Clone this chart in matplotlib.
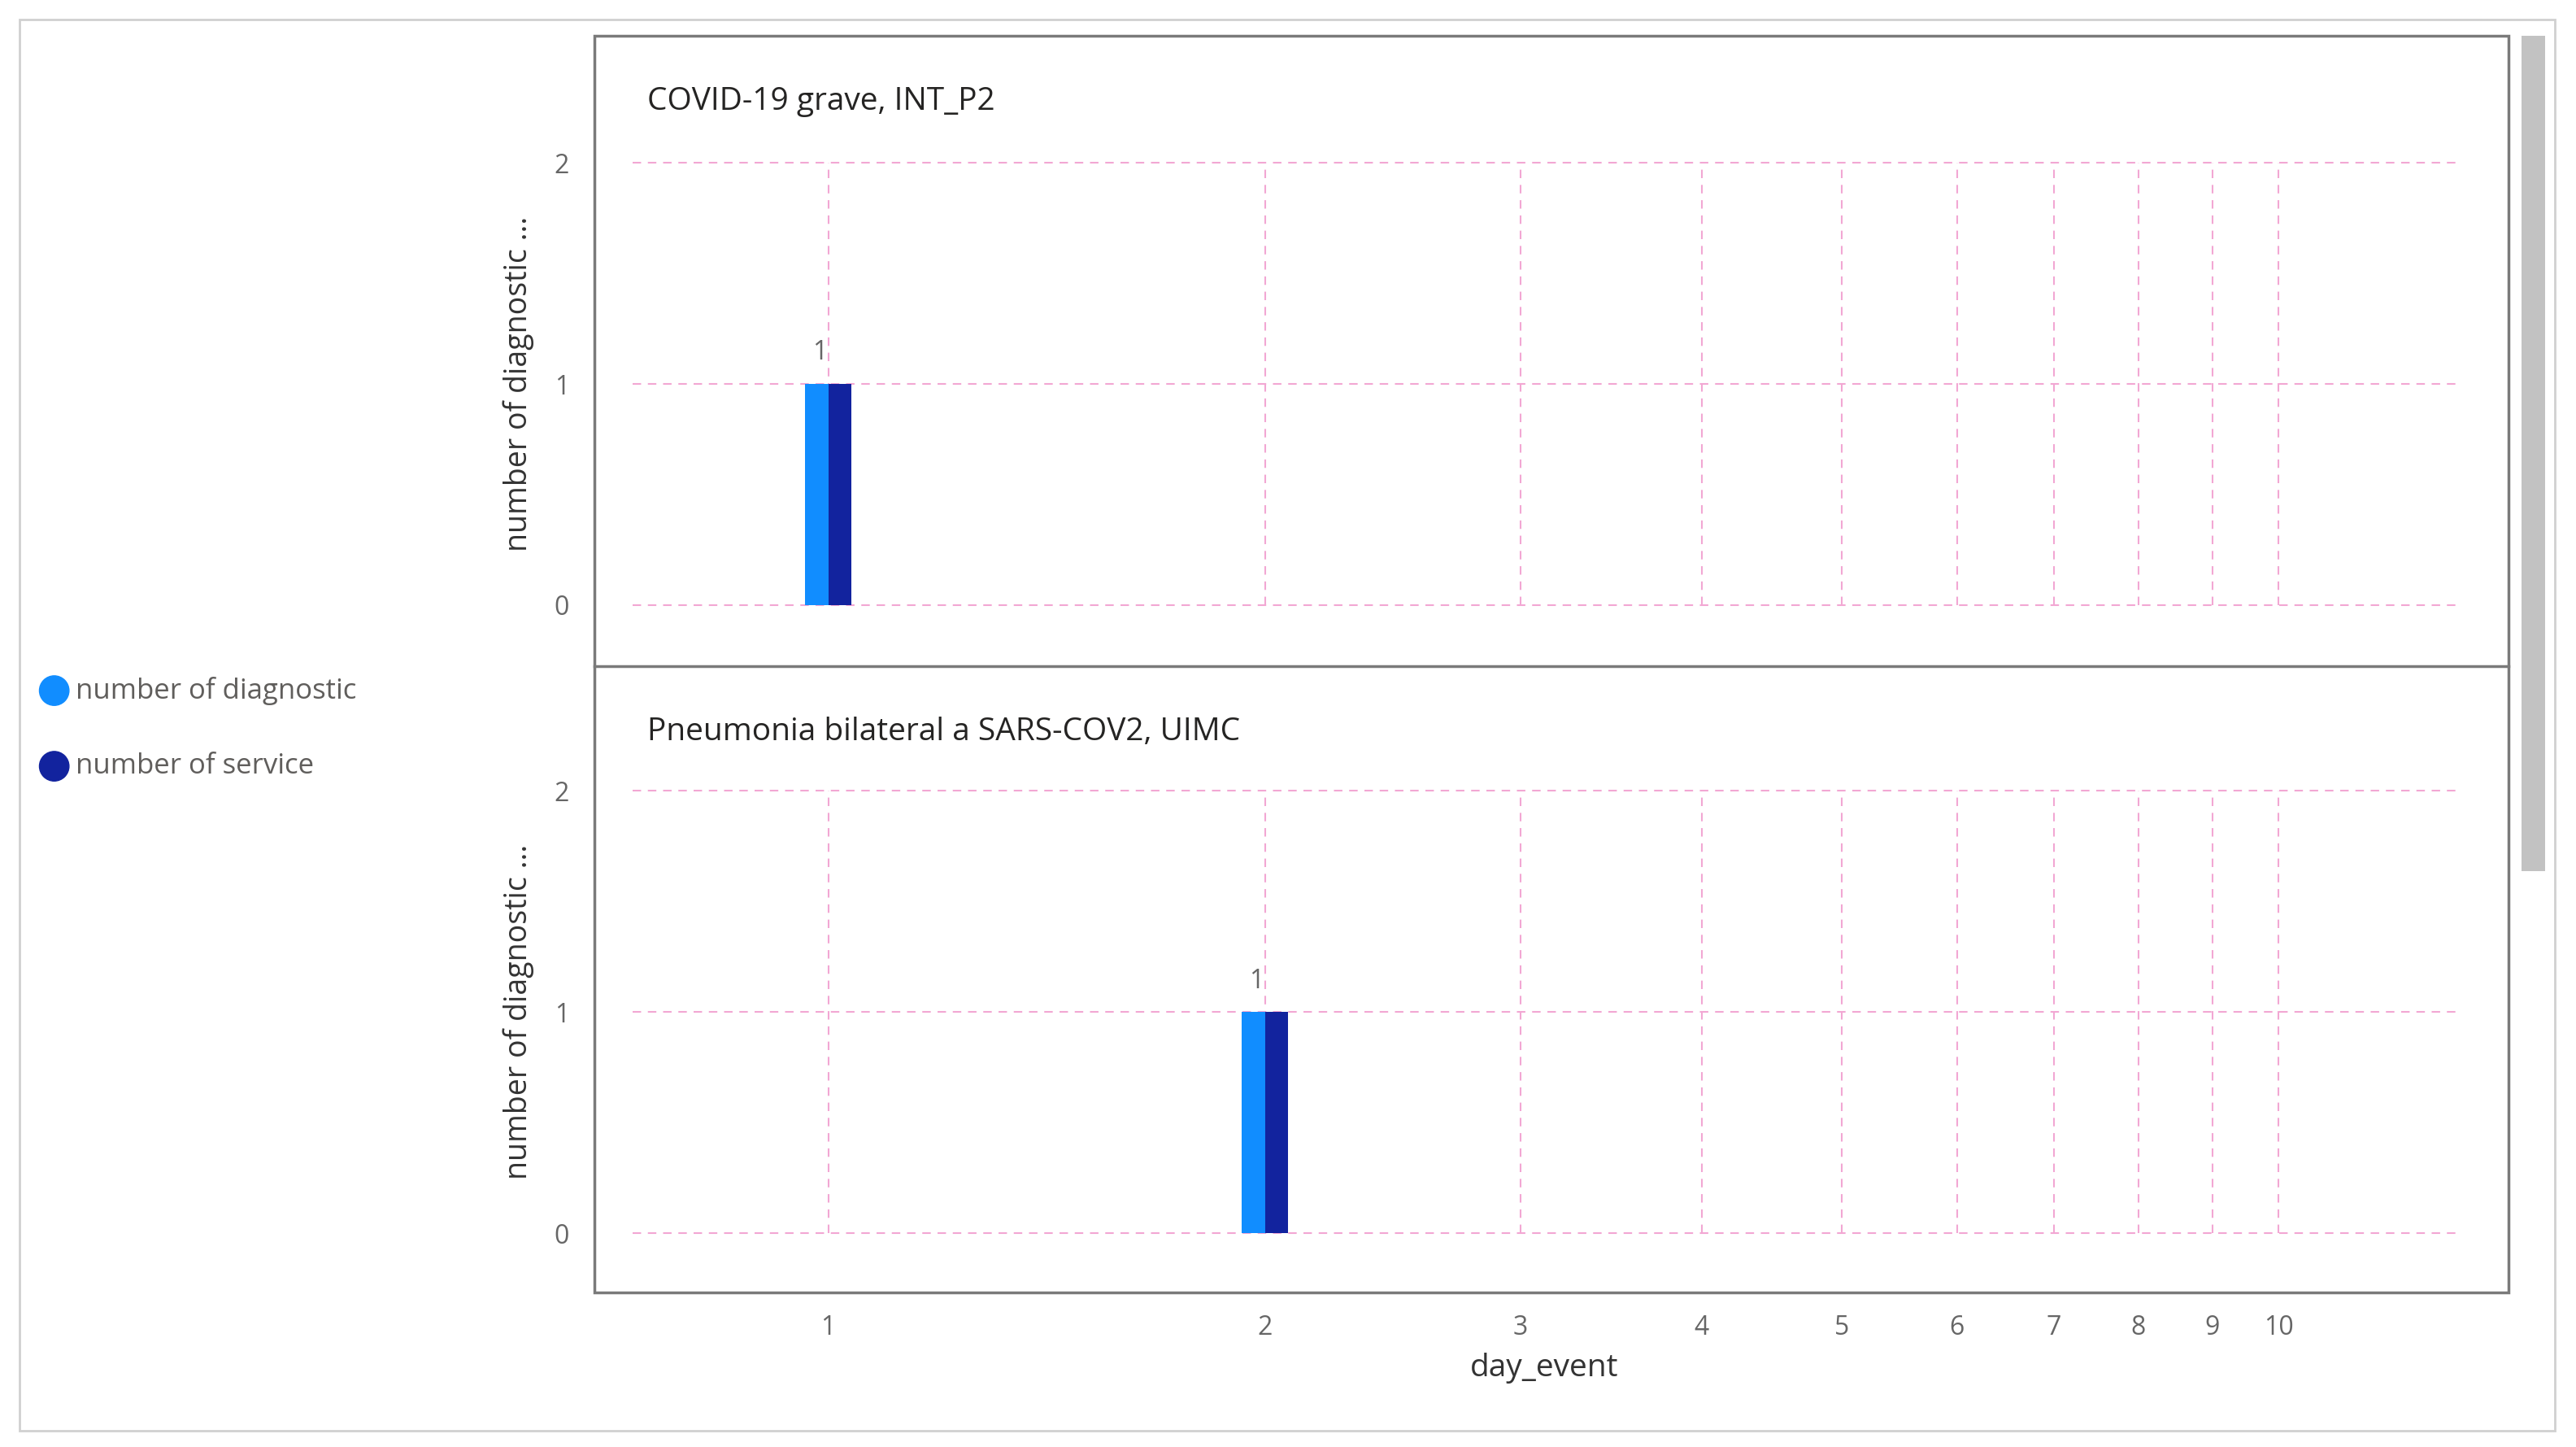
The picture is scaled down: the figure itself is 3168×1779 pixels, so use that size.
import matplotlib
matplotlib.use("Agg")
import matplotlib.pyplot as plt
import matplotlib.patches as patches

plt.rcParams['font.family'] = ['Open Sans', 'DejaVu Sans']

days = [1, 2, 3, 4, 5, 6, 7, 8, 9, 10]
panels = ["COVID-19 grave, INT_P2", "Pneumonia bilateral a SARS-COV2, UIMC"]
bar_day = [1, 2]
diagnostic = [1, 1]
service = [1, 1]
yticks = [0, 1, 2]

W, H = 1568, 880  # layout measured in half-scale pixels
fig = plt.figure(figsize=(31.68, 17.79), dpi=100)

def fx(x): return x / W
def fy(y): return 1 - y / H

# outer frame, panel box, scrollbar
fig.patches.append(patches.Rectangle((fx(12), fy(870)), fx(1543), (858) / H, transform=fig.transFigure,
                                     fill=False, edgecolor='#d0d0d0', linewidth=2))
fig.patches.append(patches.Rectangle((fx(362), fy(786)), fx(1165), 764 / H, transform=fig.transFigure,
                                     fill=False, edgecolor='#7a7a7a', linewidth=2.5))
fig.lines.append(plt.Line2D([fx(362), fx(1527)], [fy(405), fy(405)], transform=fig.transFigure,
                            color='#7a7a7a', linewidth=2.5))
fig.patches.append(patches.Rectangle((fx(1535), fy(530)), fx(14), 508 / H, transform=fig.transFigure,
                                     facecolor='#c2c2c2', edgecolor='none'))

half = 10 ** 0.0159
tops = [368, 750]
for i, title in enumerate(panels):
    ax = fig.add_axes([fx(385), fy(tops[i]), fx(1110), 269 / H])
    ax.set_xscale('log')
    ax.set_xlim(0.733, 13.25)
    ax.set_ylim(0, 2)
    for s in ax.spines.values():
        s.set_visible(False)
    ax.set_xticks(days)
    ax.set_xticks([], minor=True)
    ax.set_yticks(yticks)
    ax.tick_params(length=0, labelsize=23, labelcolor='#666666', pad=56)
    ax.grid(True, color='#f2a7d3', linestyle=(0, (5, 4)), linewidth=1.5)
    ax.set_axisbelow(True)
    for l in ax.get_xgridlines() + ax.get_ygridlines():
        l.set_clip_on(False)
    if i == 0:
        ax.set_xticklabels([])
    else:
        ax.set_xticklabels([str(d) for d in days])
        ax.tick_params(axis='x', pad=72)
        ax.set_xlabel('day_event', fontsize=28, color='#333333', labelpad=10)
    d = bar_day[i]
    ax.bar(d / half, diagnostic[i], width=d - d / half, align='edge', color='#118dff')
    ax.bar(d, service[i], width=d * half - d, align='edge', color='#12239e')
    ax.text(d * 10 ** (-0.006), diagnostic[i] + 0.08, str(diagnostic[i]), ha='center', va='bottom',
            fontsize=23, color='#666666')
    ax.set_ylabel('number of diagnostic ...', fontsize=27, color='#333333', labelpad=18)
    ax.text(fx(394), fy(62 + i * 383), title, transform=fig.transFigure, fontsize=28,
            color='#252423', va='center')

# legend
for name, col, y in [('number of diagnostic', '#118dff', 420), ('number of service', '#12239e', 466)]:
    fig.patches.append(patches.Ellipse((fx(33), fy(y)), 18 / W, 18 / H, transform=fig.transFigure,
                                       color=col))
    fig.text(fx(46), fy(y), name, fontsize=25, color='#605e5c', va='center')

fig.savefig('out.png', dpi=100, facecolor='white')
